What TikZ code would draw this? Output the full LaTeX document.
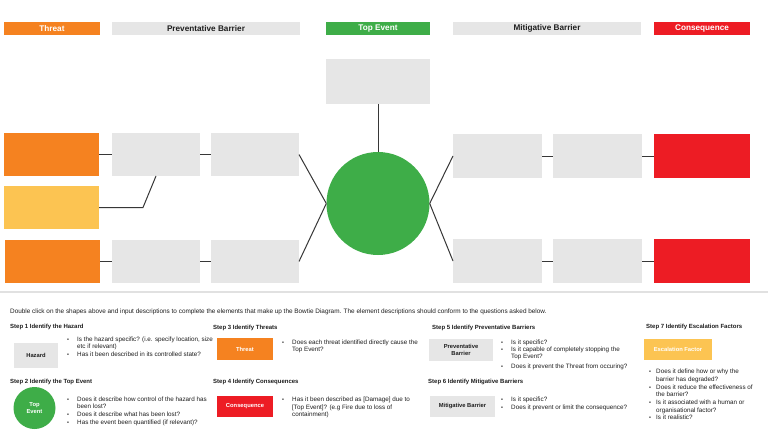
\documentclass[tikz,border=0pt]{standalone}
\usepackage{fontspec}
\setmainfont{Liberation Sans}
\definecolor{orangeT}{RGB}{245,130,32}
\definecolor{yellowT}{RGB}{252,196,82}
\definecolor{greenT}{RGB}{62,173,72}
\definecolor{redT}{RGB}{237,28,36}
\definecolor{grayB}{RGB}{230,230,230}
\definecolor{lineC}{RGB}{55,55,55}
\definecolor{sepC}{RGB}{225,225,225}
\definecolor{txtC}{RGB}{30,30,30}
\newcommand\tln[4]{\node[txt] (#1) at (#2,#3) {#4};}
\newcommand\bul[3]{\node[bullet] (#1) at (#2,#3) {\textbullet};}
\begin{document}
\begin{tikzpicture}[x=1pt,y=-1pt,
  box/.style={draw=none,inner sep=0pt,outer sep=0pt,anchor=north west,align=center},
  sz/.style 2 args={minimum width=#1,minimum height=#2},
  hdrW/.style={text=white,font=\fontsize{8.2}{9}\selectfont\bfseries},
  hdrB/.style={text=txtC,font=\fontsize{8.2}{9}\selectfont\bfseries},
  small/.style={font=\fontsize{5.8}{6.6}\selectfont\bfseries},
  conn/.style={draw=lineC,line width=1pt},
  txt/.style={anchor=base west,inner sep=0pt,text=txtC,font=\fontsize{6.3}{7}\selectfont},
  ttl/.style={anchor=base west,inner sep=0pt,text=txtC,font=\fontsize{6}{7}\selectfont\bfseries},
  bullet/.style={anchor=base west,inner sep=0pt,text=txtC,font=\fontsize{5.5}{6}\selectfont}]
\useasboundingbox[fill=white] (0,0) rectangle (768,433);
% headers
\node[box,fill=orangeT,sz={96}{13},hdrW] (hThreat) at (4,22) {Threat};
\node[box,fill=grayB,sz={188}{13},hdrB] (hPB) at (112,22) {Preventative Barrier};
\node[box,fill=greenT,sz={104}{13},hdrW] (hTE) at (326,22) {Top Event};
\node[box,fill=grayB,sz={188}{13},hdrB] (hMB) at (453,22) {Mitigative Barrier};
\node[box,fill=redT,sz={96}{13},hdrW] (hC) at (654,22) {Consequence};
% top box
\node[box,fill=grayB,sz={104}{45}] (topbox) at (326,59) {};
% left side
\node[box,fill=orangeT,sz={95}{43}] (t1) at (4,133) {};
\node[box,fill=grayB,sz={88}{43}] (pb1) at (112,133) {};
\node[box,fill=grayB,sz={88}{43}] (pb2) at (211,133) {};
\node[box,fill=yellowT,sz={95}{43}] (t2) at (4,186) {};
\node[box,fill=orangeT,sz={95}{43}] (t3) at (5,240) {};
\node[box,fill=grayB,sz={88}{43}] (pb3) at (112,240) {};
\node[box,fill=grayB,sz={88}{43}] (pb4) at (211,240) {};
% right side
\node[box,fill=grayB,sz={89}{44}] (mb1) at (453,134) {};
\node[box,fill=grayB,sz={89}{44}] (mb2) at (553,134) {};
\node[box,fill=redT,sz={96}{44}] (c1) at (654,134) {};
\node[box,fill=grayB,sz={89}{44}] (mb3) at (453,239) {};
\node[box,fill=grayB,sz={89}{44}] (mb4) at (553,239) {};
\node[box,fill=redT,sz={96}{44}] (c2) at (654,239) {};
% top event circle
\node[circle,fill=greenT,inner sep=0pt,minimum size=103pt] (te) at (378,203.5) {};
% connectors
\coordinate (kink) at (143,207.5);
\draw[conn] (t1.east) -- (pb1.west);
\draw[conn] (pb1.east) -- (pb2.west);
\draw[conn] (t2.east) -- (kink) -- (pb1.south);
\draw[conn] (t3.east) -- (pb3.west);
\draw[conn] (pb3.east) -- (pb4.west);
\draw[conn] (pb2.east) -- (te.west);
\draw[conn] (pb4.east) -- (te.west);
\draw[conn] (topbox.south) -- (te.north);
\draw[conn] (te.east) -- (mb1.west);
\draw[conn] (te.east) -- (mb3.west);
\draw[conn] (mb1.east) -- (mb2.west);
\draw[conn] (mb2.east) -- (c1.west);
\draw[conn] (mb3.east) -- (mb4.west);
\draw[conn] (mb4.east) -- (c2.west);
% separator
\coordinate (sepL) at (0,292);
\coordinate (sepR) at (768,292);
\draw[draw=sepC,line width=1.2pt] (sepL) -- (sepR);
% intro
\node[txt,font=\fontsize{6.4}{7}\selectfont] (intro) at (10,313) {Double click on the shapes above and input descriptions to complete the elements that make up the Bowtie Diagram. The element descriptions should conform to the questions asked below.};
% step 1
\node[ttl] (st1) at (10,328) {Step 1 Identify the Hazard};
\node[box,fill=grayB,sz={44}{25},small,text=txtC] (hz) at (14,343) {Hazard};
\bul{b1a}{67}{341}\tln{s1a}{77}{341}{Is the hazard specific? (i.e. specify location, size}
\tln{s1b}{77}{348.5}{etc if relevant)}
\bul{b1c}{67}{356}\tln{s1c}{77}{356}{Has it been described in its controlled state?}
% step 2
\node[ttl] (st2) at (10,383) {Step 2 Identify the Top Event};
\node[circle,fill=greenT,inner sep=0pt,minimum size=42pt,small,text=white,align=center] (ste) at (34.5,408) {Top\\Event};
\bul{b2a}{67}{401}\tln{s2a}{77}{401}{Does it describe how control of the hazard has}
\tln{s2b}{77}{408.5}{been lost?}
\bul{b2c}{67}{416}\tln{s2c}{77}{416}{Does it describe what has been lost?}
\bul{b2d}{67}{424}\tln{s2d}{77}{424}{Has the event been quantified (if relevant)?}
% step 3
\node[ttl] (st3) at (213,329) {Step 3 Identify Threats};
\node[box,fill=orangeT,sz={56}{22},small,text=white] (thr) at (217,338) {Threat};
\bul{b3a}{282}{344}\tln{s3a}{292}{344}{Does each threat identified directly cause the}
\tln{s3b}{292}{351}{Top Event?}
% step 4
\node[ttl] (st4) at (213,383) {Step 4 Identify Consequences};
\node[box,fill=redT,sz={56}{21},small,text=white] (cns) at (217,396) {Consequence};
\bul{b4a}{282}{401}\tln{s4a}{292}{401}{Has it been described as [Damage] due to}
\tln{s4b}{292}{409}{[Top Event]? (e.g Fire due to loss of}
\tln{s4c}{292}{416}{containment)}
% step 5
\node[ttl] (st5) at (432,329) {Step 5 Identify Preventative Barriers};
\node[box,fill=grayB,sz={64}{22},small,text=txtC] (pvb) at (429,339) {Preventative\\Barrier};
\bul{b5a}{501}{344.5}\tln{s5a}{511}{344.5}{Is it specific?}
\bul{b5b}{501}{351}\tln{s5b}{511}{351}{Is it capable of completely stopping the}
\tln{s5c}{511}{358.5}{Top Event?}
\bul{b5d}{501}{368}\tln{s5d}{511}{368}{Does it prevent the Threat from occuring?}
% step 6
\node[ttl] (st6) at (428,383) {Step 6 Identify Mitigative Barriers};
\node[box,fill=grayB,sz={65}{21},small,text=txtC] (mtb) at (430,396) {Mitigative Barrier};
\bul{b6a}{501}{401}\tln{s6a}{511}{401}{Is it specific?}
\bul{b6b}{501}{409}\tln{s6b}{511}{409}{Does it prevent or limit the consequence?}
% step 7
\node[ttl] (st7) at (646,328) {Step 7 Identify Escalation Factors};
\node[box,fill=yellowT,sz={68}{21},small,text=white] (esc) at (644,339) {Escalation Factor};
\bul{b7a}{649}{373}\tln{s7a}{656}{373}{Does it define how or why the}
\tln{s7b}{656}{381}{barrier has degraded?}
\bul{b7c}{649}{389}\tln{s7c}{656}{389}{Does it reduce the effectiveness of}
\tln{s7d}{656}{396}{the barrier?}
\bul{b7e}{649}{404}\tln{s7e}{656}{404}{Is it associated with a human or}
\tln{s7f}{656}{412}{organisational factor?}
\bul{b7g}{649}{419}\tln{s7g}{656}{419}{Is it realistic?}
\end{tikzpicture}
\end{document}
